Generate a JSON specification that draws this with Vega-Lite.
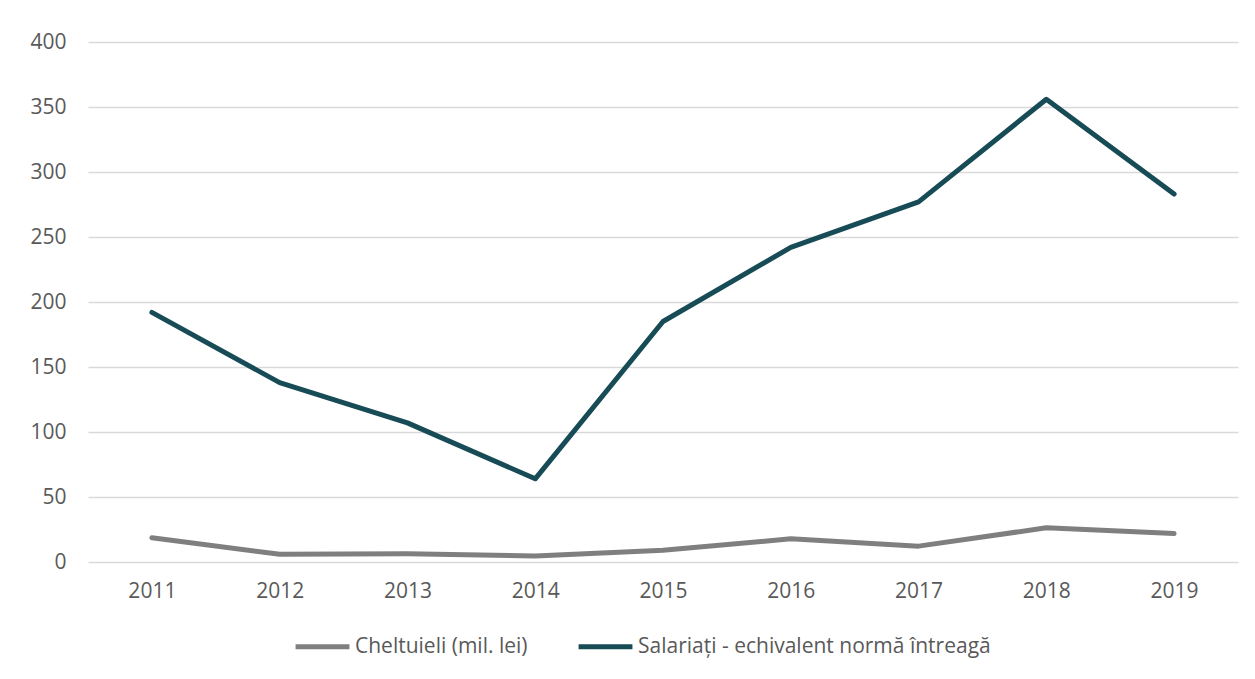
{
  "$schema": "https://vega.github.io/schema/vega-lite/v6.json",
  "width": 1150,
  "height": 520,
  "autosize": {"type": "none"},
  "padding": {"left": 88, "top": 42, "right": 17, "bottom": 117},
  "background": "white",
  "config": {
    "view": {"stroke": null},
    "font": "Open Sans",
    "axis": {"labelFont": "Open Sans", "labelFontSize": 21, "labelColor": "#595959", "ticks": false, "domain": false, "title": null},
    "legend": {"labelFont": "Open Sans", "labelFontSize": 21, "labelColor": "#595959", "labelLimit": 0}
  },
  "data": {
    "values": [
      {"an": "2011", "serie": "Cheltuieli (mil. lei)", "v": 18.6},
      {"an": "2012", "serie": "Cheltuieli (mil. lei)", "v": 6.0},
      {"an": "2013", "serie": "Cheltuieli (mil. lei)", "v": 6.3},
      {"an": "2014", "serie": "Cheltuieli (mil. lei)", "v": 4.6},
      {"an": "2015", "serie": "Cheltuieli (mil. lei)", "v": 9.1},
      {"an": "2016", "serie": "Cheltuieli (mil. lei)", "v": 17.8},
      {"an": "2017", "serie": "Cheltuieli (mil. lei)", "v": 12.2},
      {"an": "2018", "serie": "Cheltuieli (mil. lei)", "v": 26.3},
      {"an": "2019", "serie": "Cheltuieli (mil. lei)", "v": 21.9},
      {"an": "2011", "serie": "Salariați - echivalent normă întreagă", "v": 192},
      {"an": "2012", "serie": "Salariați - echivalent normă întreagă", "v": 138},
      {"an": "2013", "serie": "Salariați - echivalent normă întreagă", "v": 107},
      {"an": "2014", "serie": "Salariați - echivalent normă întreagă", "v": 64},
      {"an": "2015", "serie": "Salariați - echivalent normă întreagă", "v": 185},
      {"an": "2016", "serie": "Salariați - echivalent normă întreagă", "v": 242},
      {"an": "2017", "serie": "Salariați - echivalent normă întreagă", "v": 277},
      {"an": "2018", "serie": "Salariați - echivalent normă întreagă", "v": 356},
      {"an": "2019", "serie": "Salariați - echivalent normă întreagă", "v": 283}
    ]
  },
  "mark": {"type": "line", "strokeWidth": 5, "strokeCap": "round", "strokeJoin": "round"},
  "encoding": {
    "x": {
      "field": "an", "type": "ordinal",
      "scale": {"type": "point", "padding": 0.5},
      "axis": {"labelAngle": 0, "labelPadding": 18, "grid": false}
    },
    "y": {
      "field": "v", "type": "quantitative",
      "scale": {"domain": [0, 400], "nice": false},
      "axis": {"values": [0, 50, 100, 150, 200, 250, 300, 350, 400], "labelPadding": 22, "grid": true, "gridColor": "#d9d9d9", "gridWidth": 1.5}
    },
    "color": {
      "field": "serie", "type": "nominal",
      "scale": {"domain": ["Cheltuieli (mil. lei)", "Salariați - echivalent normă întreagă"], "range": ["#7f7f7f", "#174b56"]},
      "legend": {
        "title": null,
        "orient": "none",
        "legendX": 205,
        "legendY": 575,
        "direction": "horizontal",
        "symbolType": "stroke",
        "symbolSize": 2900,
        "symbolStrokeWidth": 5,
        "labelOffset": 3,
        "columnPadding": 40
      }
    }
  }
}
